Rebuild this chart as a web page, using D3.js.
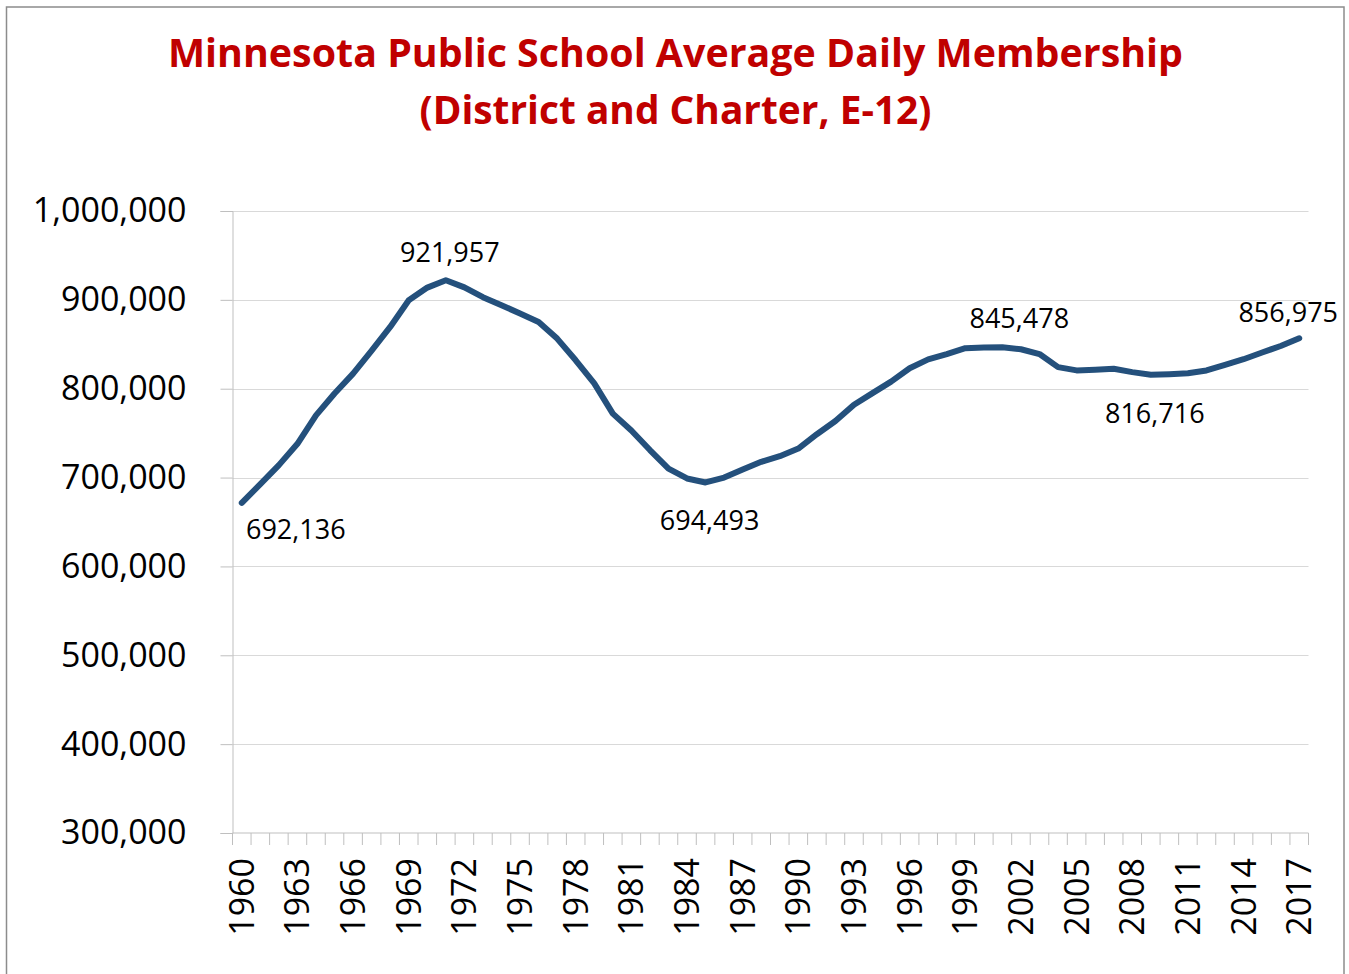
<!DOCTYPE html>
<html>
<head>
<meta charset="utf-8">
<script src="https://cdn.jsdelivr.net/npm/d3@7"></script>
<style>
  body { margin: 0; background: #fff; }
  svg text { font-family: "Open Sans", sans-serif; }
</style>
</head>
<body>
<div id="chart"></div>
<script>
// data
const years = d3.range(1960, 2018);
const membership = [
  671500, 692600, 714000, 738000, 770000, 794600, 817000, 843000, 869500, 899500,
  913800, 922000, 914000, 903000, 894000, 884600, 875000, 856400, 832000, 806000,
  772000, 753000, 731000, 710000, 699000, 694500, 700000, 709000, 717700, 724000,
  732700, 748800, 763600, 782000, 795000, 808000, 823000, 833000, 839000, 845600,
  846400, 846700, 844400, 839000, 824300, 820600, 821300, 822400, 818700, 815700,
  816400, 817500, 820600, 826900, 833200, 840700, 848100, 856800
];
const yTicks = [300000, 400000, 500000, 600000, 700000, 800000, 900000, 1000000];
const xTickYears = d3.range(1960, 2018, 3);
const titleLines = ["Minnesota Public School Average Daily Membership", "(District and Charter, E-12)"];
const labels = [
  {year: 1960, text: "692,136", place: "belowRight"},
  {year: 1971, text: "921,957", place: "above"},
  {year: 1985, text: "694,493", place: "below"},
  {year: 1999, text: "845,478", place: "aboveRight"},
  {year: 2009, text: "816,716", place: "below"},
  {year: 2017, text: "856,975", place: "aboveLeft"}
];

const width = 1349, height = 974;
const plot = {left: 232.5, right: 1308.5, top: 211, bottom: 833};

const svg = d3.select("#chart").append("svg")
  .attr("width", width)
  .attr("height", height);

// outer frame
svg.append("rect")
  .attr("x", 6.5).attr("y", 7)
  .attr("width", 1337.5).attr("height", 990)
  .attr("fill", "#fff")
  .attr("stroke", "#8c8c8c")
  .attr("stroke-width", 1.5);

// title
svg.selectAll(".title")
  .data(titleLines)
  .enter().append("text")
  .attr("class", "title")
  .attr("x", 675.5)
  .attr("y", (d, i) => 67 + i * 57)
  .attr("text-anchor", "middle")
  .attr("textLength", (d, i) => i == 0 ? 1015 : 512)
  .attr("lengthAdjust", "spacingAndGlyphs")
  .style("font-size", "39px")
  .style("font-weight", 700)
  .style("fill", "#C00000")
  .text(d => d);

const x = d3.scaleBand()
  .domain(years)
  .range([plot.left, plot.right]);

const y = d3.scaleLinear()
  .domain([300000, 1000000])
  .range([plot.bottom, plot.top]);

// gridlines
svg.append("g")
  .selectAll("line")
  .data(yTicks.slice(1))
  .enter().append("line")
  .attr("x1", plot.left).attr("x2", plot.right)
  .attr("y1", d => Math.round(y(d)) + 0.5)
  .attr("y2", d => Math.round(y(d)) + 0.5)
  .attr("stroke", "#d9d9d9")
  .attr("stroke-width", 1);

// y axis
const yAxis = svg.append("g")
  .attr("transform", "translate(" + plot.left + ",0)")
  .call(d3.axisLeft(y).tickValues(yTicks).tickSize(12).tickPadding(34)
    .tickFormat(d3.format(",")));
yAxis.select(".domain").attr("stroke", "#bfbfbf");
yAxis.selectAll(".tick line").attr("stroke", "#bfbfbf");
yAxis.selectAll("text")
  .style("font-size", "34px")
  .style("fill", "#000");

// x axis: ticks between categories, labels every 3rd year
const xAxis = svg.append("g")
  .attr("transform", "translate(0," + plot.bottom + ")");
xAxis.append("line")
  .attr("x1", plot.left).attr("x2", plot.right)
  .attr("stroke", "#bfbfbf");
xAxis.selectAll(".xtick")
  .data(years.concat([2018]))
  .enter().append("line")
  .attr("class", "xtick")
  .attr("x1", d => d == 2018 ? plot.right : x(d))
  .attr("x2", d => d == 2018 ? plot.right : x(d))
  .attr("y1", 0).attr("y2", 12)
  .attr("stroke", "#bfbfbf");
xAxis.selectAll(".xlabel")
  .data(xTickYears)
  .enter().append("text")
  .attr("class", "xlabel")
  .attr("transform", d => "translate(" + (x(d) + x.bandwidth() / 2 + 12) + ",25) rotate(-90)")
  .attr("text-anchor", "end")
  .style("font-size", "34px")
  .style("fill", "#000")
  .text(d => d);

// the line
const line = d3.line()
  .x((d, i) => x(years[i]) + x.bandwidth() / 2)
  .y(d => y(d));

svg.append("path")
  .datum(membership)
  .attr("d", line)
  .attr("fill", "none")
  .attr("stroke", "#24507c")
  .attr("stroke-width", 6)
  .attr("stroke-linejoin", "round")
  .attr("stroke-linecap", "round");

// data labels
const offsets = {
  above: [4, -18],
  below: [4, 48],
  belowRight: [54, 36],
  aboveRight: [54, -20],
  aboveLeft: [-11, -16]
};
svg.selectAll(".dlabel")
  .data(labels)
  .enter().append("text")
  .attr("class", "dlabel")
  .attr("x", d => x(d.year) + x.bandwidth() / 2 + offsets[d.place][0])
  .attr("y", d => y(membership[years.indexOf(d.year)]) + offsets[d.place][1])
  .attr("text-anchor", "middle")
  .style("font-size", "27px")
  .style("fill", "#000")
  .text(d => d.text);
</script>
</body>
</html>
